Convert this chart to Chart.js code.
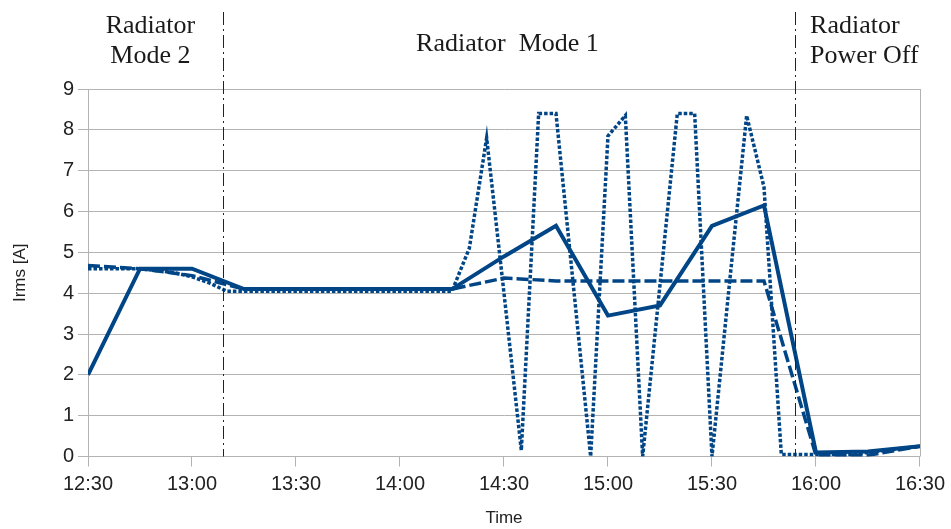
<!DOCTYPE html>
<html>
<head>
<meta charset="utf-8">
<script src="https://cdn.jsdelivr.net/npm/chart.js@4"></script>
<style>
  html, body { margin: 0; padding: 0; background: #fff; }
  #wrap { width: 951px; height: 529px; }
</style>
</head>
<body>
<div id="wrap"><canvas id="irmsChart"></canvas></div>
<script>
// 15-minute samples
const quarterTimes = ['12:30', '12:45', '13:00', '13:15', '13:30', '13:45', '14:00', '14:15', '14:30',
    '14:45', '15:00', '15:15', '15:30', '15:45', '16:00', '16:15', '16:30'];
const solidValues = [2.0, 4.6, 4.6, 4.1, 4.1, 4.1, 4.1, 4.1, 4.9,
    5.65, 3.45, 3.7, 5.65, 6.15, 0.1, 0.12, 0.25];
const dashedValues = [4.68, 4.6, 4.43, 4.1, 4.1, 4.1, 4.1, 4.1, 4.37,
    4.3, 4.3, 4.3, 4.3, 4.3, 0.03, 0.03, 0.25];

// 5-minute samples
const fiveMinTimes = ['12:30', '12:35', '12:40', '12:45', '12:50', '12:55', '13:00', '13:05', '13:10',
    '13:15', '13:20', '13:25', '13:30', '13:35', '13:40', '13:45', '13:50', '13:55', '14:00',
    '14:05', '14:10', '14:15', '14:20', '14:25', '14:30', '14:35', '14:40', '14:45', '14:50',
    '14:55', '15:00', '15:05', '15:10', '15:15', '15:20', '15:25', '15:30', '15:35', '15:40',
    '15:45', '15:50', '15:55', '16:00', '16:05', '16:10', '16:15', '16:20', '16:25', '16:30'];
const dottedValues = [4.6, 4.6, 4.6, 4.6, 4.55, 4.5, 4.4, 4.25, 4.05,
    4.05, 4.05, 4.05, 4.05, 4.05, 4.05, 4.05, 4.05, 4.05, 4.05,
    4.05, 4.05, 4.05, 5.1, 7.8, 4.0, 0.15, 8.4, 8.4, 4.2,
    0.0, 7.85, 8.35, 0.0, 4.2, 8.4, 8.4, 0.0, 4.2, 8.35,
    6.6, 0.05, 0.05, 0.05, 0.05, 0.05, 0.1, 0.15, 0.2, 0.25];

const xTicks = ['12:30', '13:00', '13:30', '14:00', '14:30', '15:00', '15:30', '16:00', '16:30'];
const yTicks = [0, 1, 2, 3, 4, 5, 6, 7, 8, 9];

// mode changes
const markerTimes = ['13:09', '15:54'];

function toMin(t) {
    const p = t.split(':');
    return parseInt(p[0]) * 60 + parseInt(p[1]);
}
function fmt(v) {
    const h = Math.floor(v / 60), m = v % 60;
    return h + ':' + (m < 10 ? '0' : '') + m;
}
function pts(times, vals) {
    return times.map((t, i) => ({ x: toMin(t), y: vals[i] }));
}

const blue = '#004586';
const gridCol = '#b3b3b3';

const annotations = {
    id: 'annotations',
    afterDatasetsDraw(chart) {
        const { ctx, chartArea, scales } = chart;
        const xs = scales.x;
        ctx.save();

        // dash-dot separators
        ctx.strokeStyle = '#222';
        ctx.lineWidth = 1;
        ctx.setLineDash([13, 4, 2, 4]);
        markerTimes.forEach(t => {
            const x = Math.round(xs.getPixelForValue(toMin(t))) + 0.5;
            ctx.beginPath();
            ctx.moveTo(x, 12);
            ctx.lineTo(x, chartArea.bottom);
            ctx.stroke();
        });

        // right frame edge
        ctx.setLineDash([]);
        ctx.strokeStyle = gridCol;
        ctx.beginPath();
        ctx.moveTo(Math.round(chartArea.right) + 0.5, chartArea.top);
        ctx.lineTo(Math.round(chartArea.right) + 0.5, chartArea.bottom);
        ctx.stroke();

        // region labels
        ctx.fillStyle = '#1a1a1a';
        ctx.font = '26px "Liberation Serif", serif';
        ctx.textBaseline = 'alphabetic';
        ctx.textAlign = 'center';
        let x = xs.getPixelForValue(toMin('12:48'));
        ctx.fillText('Radiator', x, 33);
        ctx.fillText('Mode 2', x, 63);
        x = xs.getPixelForValue(toMin('14:31'));
        ctx.fillText('Radiator  Mode 1', x, 51);
        ctx.textAlign = 'left';
        x = xs.getPixelForValue(toMin('15:58')) + 1;
        ctx.fillText('Radiator', x, 33);
        ctx.fillText('Power Off', x, 63);
        ctx.restore();
    }
};

new Chart(document.getElementById('irmsChart'), {
    type: 'line',
    data: {
        datasets: [{
            label: 'solid',
            data: pts(quarterTimes, solidValues),
            borderColor: blue,
            borderWidth: 4,
            pointRadius: 0,
            tension: 0
        }, {
            label: 'dashed',
            data: pts(quarterTimes, dashedValues),
            borderColor: blue,
            borderWidth: 3.5,
            borderDash: [12, 4],
            pointRadius: 0,
            tension: 0
        }, {
            label: 'dotted',
            data: pts(fiveMinTimes, dottedValues),
            borderColor: blue,
            borderWidth: 3.5,
            borderDash: [3.5, 2],
            pointRadius: 0,
            tension: 0
        }]
    },
    options: {
        responsive: true,
        maintainAspectRatio: false,
        animation: false,
        layout: { padding: { top: 89, right: 29, left: 0, bottom: 0 } },
        plugins: {
            legend: { display: false },
            tooltip: { enabled: false }
        },
        scales: {
            x: {
                type: 'linear',
                min: toMin(xTicks[0]),
                max: toMin(xTicks[xTicks.length - 1]),
                afterBuildTicks(scale) {
                    scale.ticks = xTicks.map(t => ({ value: toMin(t) }));
                },
                afterFit(scale) { scale.height = 72.5; },
                grid: {
                    drawOnChartArea: false,
                    drawTicks: true,
                    tickLength: 10,
                    color: gridCol
                },
                border: { display: true, color: gridCol },
                ticks: {
                    callback: v => fmt(v),
                    color: '#222',
                    padding: 6,
                    maxRotation: 0,
                    font: { family: '"Liberation Sans", Arial, sans-serif', size: 20 }
                },
                title: {
                    display: true,
                    text: 'Time',
                    color: '#222',
                    padding: { top: 4, bottom: 0 },
                    font: { family: '"Liberation Sans", Arial, sans-serif', size: 17 }
                }
            },
            y: {
                min: yTicks[0],
                max: yTicks[yTicks.length - 1],
                afterBuildTicks(scale) {
                    scale.ticks = yTicks.map(v => ({ value: v }));
                },
                afterFit(scale) { scale.width = 88; },
                grid: {
                    color: gridCol,
                    tickLength: 10,
                    drawTicks: true
                },
                border: { display: true, color: gridCol },
                ticks: {
                    color: '#222',
                    padding: 4,
                    font: { family: '"Liberation Sans", Arial, sans-serif', size: 20 }
                },
                title: {
                    display: true,
                    text: 'Irms [A]',
                    color: '#222',
                    padding: { top: 10, bottom: 0 },
                    font: { family: '"Liberation Sans", Arial, sans-serif', size: 17 }
                }
            }
        }
    },
    plugins: [annotations]
});
</script>
</body>
</html>
